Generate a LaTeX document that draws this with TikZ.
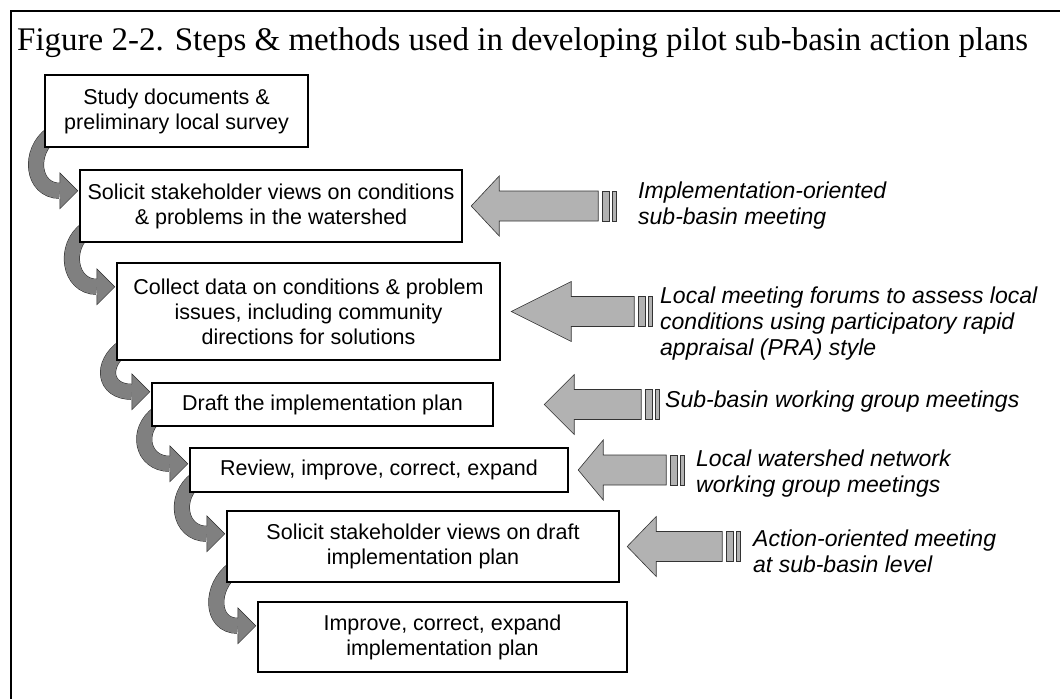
\documentclass[tikz,border=0pt]{standalone}
\usepackage{fontspec}
\setmainfont{Liberation Serif}
\setsansfont{Liberation Sans}
\usetikzlibrary{calc,backgrounds}

\begin{document}
\begin{tikzpicture}[x=1pt, y=1pt]
\tikzstyle{stage}=[draw=black, line width=2.4pt, fill=white, align=center, inner sep=0pt, font=\sffamily\fontsize{21.5}{25}\selectfont]
\tikzstyle{band}=[draw=black!85, line width=0.5pt, double=black!50, double distance=15pt]
\tikzstyle{method}=[draw=black!80, line width=0.6pt, fill=black!30]
\tikzstyle{method text}=[anchor=west, align=left, inner sep=0pt, font=\sffamily\itshape\fontsize{23}{26}\selectfont]
\useasboundingbox (0,0) rectangle (1060,-699);
\draw[line width=1.5pt] (1060,-11) -- (11,-11) -- (11,-699);
\node[anchor=base west, inner sep=0pt, font=\fontsize{33}{36}\selectfont] (title) at (17,-50) {Figure 2-2. Steps \& methods used in developing pilot sub-basin action plans};
% steps
\node[stage, minimum width=263pt, minimum height=72pt] (b1) at (176.5,-111) {Study documents \&\\preliminary local survey};
\node[stage, minimum width=382pt, minimum height=72pt] (b2) at (271,-206) {Solicit stakeholder views on conditions\\\& problems in the watershed};
\node[stage, minimum width=383pt, minimum height=97pt] (b3) at (308.5,-311.5) {Collect data on conditions \& problem\\issues, including community\\directions for solutions};
\node[stage, minimum width=341pt, minimum height=43pt] (b4) at (322.5,-404.5) {Draft the implementation plan};
\node[stage, minimum width=378pt, minimum height=44pt] (b5) at (379,-470) {Review, improve, correct, expand};
\node[stage, minimum width=392pt, minimum height=71pt] (b6) at (423,-546.5) {Solicit stakeholder views on draft\\implementation plan};
\node[stage, minimum width=369pt, minimum height=70pt] (b7) at (442.5,-637) {Improve, correct, expand\\implementation plan};
% methods
\node[method text] (m1) at (638,-206) {Implementation-oriented\\sub-basin meeting};
\node[method text] (m2) at (660,-324) {Local meeting forums to assess local\\conditions using participatory rapid\\appraisal (PRA) style};
\node[method text] (m3) at (665,-402) {Sub-basin working group meetings};
\node[method text] (m4) at (696,-474) {Local watershed network\\working group meetings};
\node[method text] (m5) at (753,-551) {Action-oriented meeting\\at sub-basin level};

\begin{pgfonlayer}{background}
\foreach \a/\b/\d in {b1/b2/22, b2/b3/25, b3/b4/10, b4/b5/17, b5/b6/24, b6/b7/25}{
  \coordinate (tip) at ($(\b.north west)+(-1,-\d)$);
  \draw[band] ($(\a.south west)+(8,14)$) .. controls ($(\a.south west)+(-16,-3)$) and ($(tip)+(-46,0)$) .. ($(tip)+(-18,0)$);
  \fill[black!50] (tip) -- ++(-18,18) -- ++(0,-36) -- cycle;
  \draw[black!85, line width=0.5pt] ($(tip)+(-18,8)$) -- ++(0,10) -- (tip) -- ++(-18,-18) -- ++(0,10);
}
\end{pgfonlayer}

\foreach \b/\g/\h/\l in {b2/8/28/127, b3/10/60/123, b4/50/30/97, b5/9/25/88, b6/7/29/95}{
  \coordinate (t) at ($(\b.east)+(\g,0)$);
  \draw[method] (t) -- ++(\h,30) -- ++(0,-15) -- ($(t)+(\l,15)$) -- ($(t)+(\l,-15)$) -- ($(t)+(\h,-15)$) -- ++(0,-15) -- cycle;
  \draw[method] ($(t)+(\l+4,15)$) rectangle ++(7,-30);
  \draw[method] ($(t)+(\l+14,15)$) rectangle ++(4,-30);
}
\end{tikzpicture}
\end{document}
